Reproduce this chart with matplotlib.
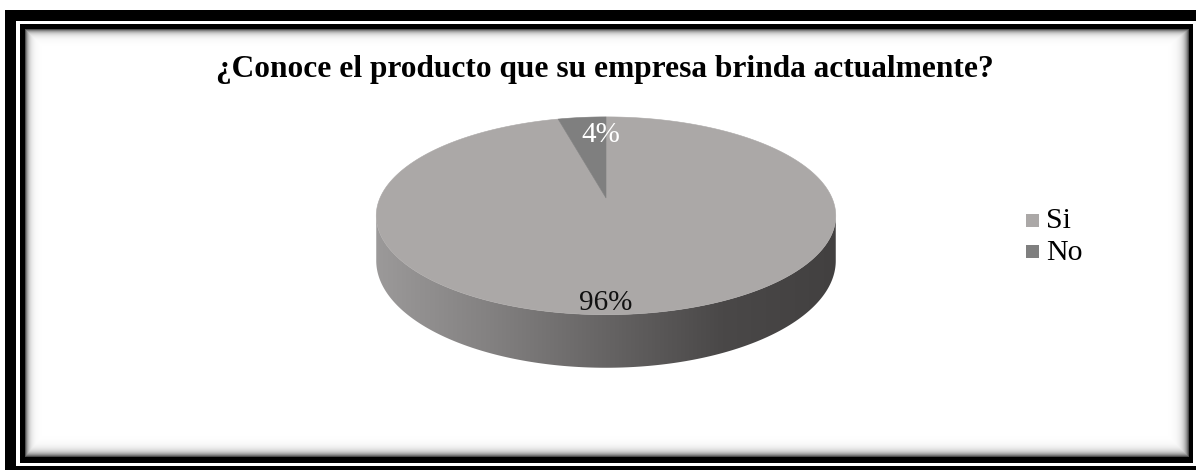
import numpy as np
import matplotlib
matplotlib.use("Agg")
import matplotlib.pyplot as plt
from matplotlib.patches import Polygon, Rectangle
from matplotlib.colors import LinearSegmentedColormap

# ---- data ----
categories = ["Si", "No"]
values = [96, 4]
colors = ["#aba8a7", "#7f7f7f"]
title = "¿Conoce el producto que su empresa brinda actualmente?"

SERIF = ["Liberation Serif", "DejaVu Serif"]

W, H = 1196, 470
fig = plt.figure(figsize=(W / 100, H / 100), dpi=100)
ax = fig.add_axes([0, 0, 1, 1])
ax.set_xlim(0, W)
ax.set_ylim(H, 0)
ax.axis("off")

# ---- double frame with inner shadow ----
ax.add_patch(Rectangle((5, 10), 1300, 600, fc="black", ec="none", zorder=0))
ax.add_patch(Rectangle((16, 21), 1300, 445, fc="white", ec="none", zorder=0.1))
ax.add_patch(Rectangle((20, 24), 1173, 439, fc="black", ec="none", zorder=0.2))
ix0, iy0, ix1, iy1 = 25, 29, 1189, 457
ax.add_patch(Rectangle((ix0, iy0), ix1 - ix0, iy1 - iy0, fc="white", ec="none", zorder=0.3))
nx, ny = ix1 - ix0, iy1 - iy0
xs = np.arange(nx) + 0.5
ys = np.arange(ny) + 0.5
dx = np.minimum(xs[None, :] * 1.0, (nx - xs[None, :]) * 0.8)
dy = np.minimum(ys[:, None] * 1.0, (ny - ys[:, None]) * 0.8)
d = np.minimum(dx, dy)
shadow = np.zeros((ny, nx, 4))
shadow[..., 3] = 0.8 * np.exp(-d / 3.2)
ax.imshow(shadow, extent=(ix0, ix1, iy1, iy0), origin="upper",
          interpolation="bilinear", zorder=0.4, aspect="auto")

# ---- 3D pie geometry (perspective-projected disk) ----
cx, cy = 606, 198
R, B, k, depth = 226, 95.7, 0.18, 43.5


def proj(t_deg, drop=0.0):
    t = np.radians(t_deg)
    u, v = np.cos(t), np.sin(t)
    s = 1.0 / (1.0 + k * v)
    return cx + R * u * s, cy - B * v * s + drop * s


# front wall with horizontal shading
edge = np.degrees(np.arcsin(k))
tw = np.linspace(180 + edge, 360 - edge, 400)
xt, yt = proj(tw)
xb, yb = proj(tw[::-1], depth)
wall = Polygon(np.column_stack([np.r_[xt, xb], np.r_[yt, yb]]),
               closed=True, fc="none", ec="none", zorder=1)
ax.add_patch(wall)
wall_cmap = LinearSegmentedColormap.from_list(
    "wall", [(0.0, "#9c9a9a"), (0.25, "#838181"), (0.5, "#666464"),
             (0.75, "#4a4848"), (1.0, "#424040")])
grad = np.linspace(0, 1, 512)[None, :]
gx0, gx1 = cx - R * 1.03, cx + R * 1.03
gim = ax.imshow(grad, cmap=wall_cmap, extent=(gx0, gx1, cy + 200, cy - 20),
                aspect="auto", zorder=1.1, interpolation="bilinear")
gim.set_clip_path(wall)

# top face slices, clockwise from 12 o'clock
total = float(sum(values))
start = 90.0
for val, col in zip(values, colors):
    stop = start - 360.0 * val / total
    ts = np.linspace(start, stop, max(int(abs(stop - start)) * 3, 10))
    ax_, ay_ = proj(ts)
    poly = np.column_stack([np.r_[cx, ax_], np.r_[cy, ay_]])
    ax.add_patch(Polygon(poly, closed=True, fc=col, ec=col, lw=0.4, zorder=2))
    start = stop

# data labels
label_pos = [(606, 310), (601, 142)]
label_col = ["#111111", "white"]
for val, (lx, ly), lc in zip(values, label_pos, label_col):
    ax.text(lx, ly, f"{val}%", color=lc, fontsize=21, family=SERIF,
            ha="center", va="baseline", zorder=3)

# title
ax.text(605, 77, title, fontsize=22.6, fontweight="bold", family=SERIF,
        ha="center", va="baseline", zorder=3)

# legend
leg_x, leg_y0, leg_dy, sq = 1026, 214, 31, 13
for i, (cat, col) in enumerate(zip(categories, colors)):
    y = leg_y0 + i * leg_dy
    ax.add_patch(Rectangle((leg_x, y), sq, sq, fc=col, ec="none", zorder=3))
    ax.text(leg_x + sq + 7, y + sq + 1.5, cat, fontsize=21.5, family=SERIF,
            ha="left", va="baseline", zorder=3)

fig.savefig("out.png", dpi=100)
